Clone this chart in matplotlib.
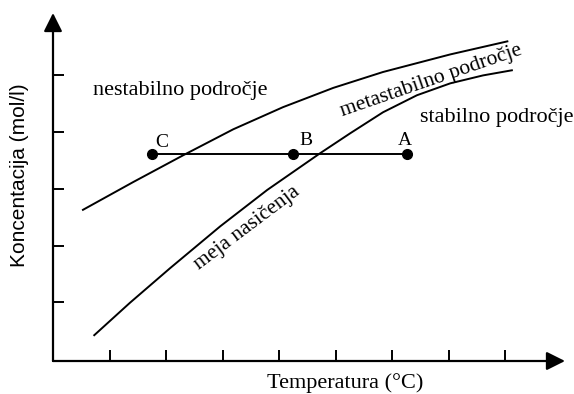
import matplotlib
matplotlib.use("Agg")
import matplotlib.pyplot as plt

# supersolubility curve (upper) and solubility curve (lower)
upper_t = [0.53, 1.42, 2.30, 3.19, 4.07, 4.96, 5.84, 7.03, 8.04]
upper_c = [2.63, 3.12, 3.59, 4.05, 4.44, 4.78, 5.06, 5.37, 5.60]
lower_t = [0.73, 1.36, 2.07, 2.96, 3.79, 4.73, 5.26, 5.84, 6.44, 7.03, 7.61, 8.12]
lower_c = [0.42, 0.99, 1.60, 2.34, 2.98, 3.63, 3.98, 4.35, 4.65, 4.86, 5.00, 5.09]

# cooling path C <- B <- A at constant concentration
point_names = ["C", "B", "A"]
point_t = [1.75, 4.25, 6.27]
point_c = [3.61, 3.61, 3.61]

x_ticks = [1, 2, 3, 4, 5, 6, 7, 8]
y_ticks = [1, 2, 3, 4, 5]

serif = "Liberation Serif"
sans = "Liberation Sans"

fig = plt.figure(figsize=(5.74, 3.94), dpi=100)
ax = fig.add_axes([53 / 574, 33 / 394, 512 / 574, 348 / 394])
ax.set_xlim(0, 9.06)
ax.set_ylim(-0.035, 6.10)

for s in ax.spines.values():
    s.set_visible(False)

arrow = dict(arrowstyle="-|>", color="black", lw=1.6, mutation_scale=28,
             shrinkA=0, shrinkB=0)
ax.annotate("", xy=(1, 0), xytext=(0, 0), xycoords="axes fraction",
            textcoords="axes fraction", arrowprops=arrow)
ax.annotate("", xy=(0, 1), xytext=(0, 0), xycoords="axes fraction",
            textcoords="axes fraction", arrowprops=arrow)

ax.set_xticks(x_ticks)
ax.set_yticks(y_ticks)
ax.tick_params(direction="in", length=8, width=1.4, color="black",
               labelbottom=False, labelleft=False)

ax.plot(upper_t, upper_c, color="black", lw=1.4)
ax.plot(lower_t, lower_c, color="black", lw=1.4)
ax.plot(point_t, point_c, color="black", lw=1.4, marker="o", markersize=7)

label_off = [(0.18, 0.21), (0.23, 0.25), (-0.04, 0.25)]
for name, t, c, (dx, dy) in zip(point_names, point_t, point_c, label_off):
    ax.text(t + dx, c + dy, name, family=serif, fontsize=14,
            ha="center", va="center")

ax.text(2.25, 4.74, "nestabilno področje", family=serif, fontsize=16,
        ha="center", va="center")
ax.text(7.86, 4.25, "stabilno področje", family=serif, fontsize=16,
        ha="center", va="center", clip_on=False)
ax.text(6.70, 4.90, "metastabilno področje", family=serif, fontsize=15.5,
        ha="center", va="center", rotation=19, rotation_mode="anchor")
ax.text(3.43, 2.31, "meja nasičenja", family=serif, fontsize=15.5,
        ha="center", va="center", rotation=37, rotation_mode="anchor")

fig.text(345 / 574, 1 - 383 / 394, "Temperatura (°C)", family=serif,
         fontsize=16, ha="center", va="center")
fig.text(20 / 574, 1 - 175 / 394, "Koncentacija (mol/l)", family=sans,
         fontsize=15, ha="center", va="center", rotation=90)

fig.savefig("out.png", dpi=100)
